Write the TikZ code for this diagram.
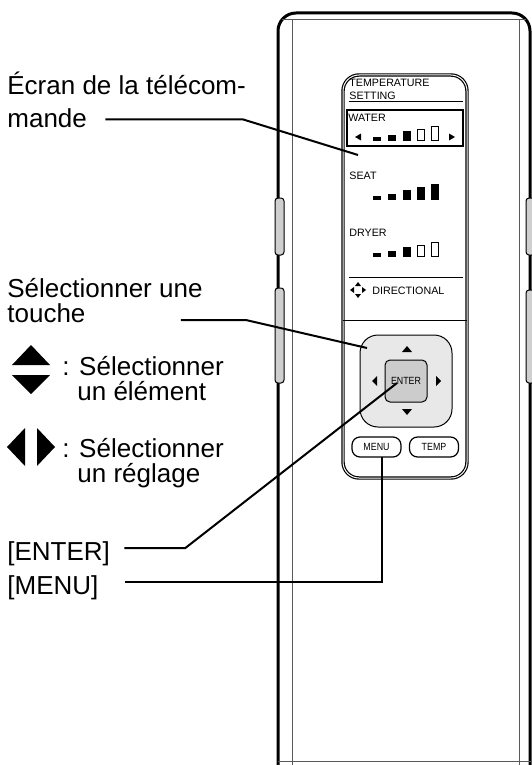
\documentclass[tikz,border=0pt]{standalone}
\usepackage{fontspec}
\setmainfont{Liberation Sans}
\newfontfamily\keyfont[FakeStretch=0.85]{Liberation Sans}
\usetikzlibrary{positioning}

\begin{document}
\begin{tikzpicture}[x=0.5pt, y=-0.5pt,
    lbl/.style={anchor=base west, inner sep=0pt, font=\fontsize{13}{15}\selectfont},
    scr/.style={anchor=base west, inner sep=0pt, font=\fontsize{5.35}{6}\selectfont},
    leader/.style={draw, line width=1pt},
    body/.style={draw, line width=1.5pt, rounded corners=9},
    innerln/.style={draw, gray!70!black, line width=0.5pt},
    sidebtn/.style={draw, line width=0.5pt, fill=gray!38, rounded corners=1.5},
    panel/.style={draw, line width=0.6pt, double, double distance=0.5pt, rounded corners=8},
    dpad/.style={draw, line width=0.5pt, fill=gray!18, rounded corners=9, minimum size=46pt, inner sep=0pt},
    enterkey/.style={draw, line width=0.5pt, fill=gray!40, rounded corners=2.5, minimum size=21pt, inner sep=0pt, font=\keyfont\fontsize{5.2}{6}\selectfont},
    key/.style={draw, line width=0.6pt, rounded corners=4, minimum width=24.5pt, minimum height=10pt, inner sep=0pt, font=\keyfont\fontsize{5.2}{6}\selectfont}
]
    \useasboundingbox (0,0) rectangle (531,765);

    % Remote body
    \draw[body] (278,800) -- (278,13) -- (530,13) -- (530,800);
    \draw[innerln] (282,20) -- (526,20);
    \draw[innerln] (292,20) -- (292,765);
    \draw[innerln] (519,20) -- (519,765);
    \draw[innerln] (278,761) -- (531,761);
    \draw[sidebtn] (275,198) rectangle (284,255);
    \draw[sidebtn] (275,288) rectangle (284,383);
    \draw[sidebtn] (526,198) rectangle (535,255);
    \draw[sidebtn] (526,290) rectangle (535,383);

    % Screen
    \draw[panel] (343,75) rectangle (467,478);
    \draw[line width=0.5pt] (343,320) -- (467,320);
    \node[scr] (temp1) at (349,86.5) {TEMPERATURE};
    \node[scr] (temp2) at (349,99) {SETTING};
    \draw[line width=0.5pt] (349,102) -- (463,102);
    \draw[line width=0.6pt] (347,110) rectangle (463,146);
    \node[scr] (water) at (348,121.5) {WATER};
    \fill (355,137) -- (361,133.5) -- (361,140.5) -- cycle;
    \fill (449,133.5) -- (455,137) -- (449,140.5) -- cycle;
    \foreach \xb/\hb/\fb in {373/3/black, 388/5/black, 403/9/black, 417/11/white, 431/14/white}
        \draw[line width=0.4pt, fill=\fb] (\xb,140.5) rectangle ++(7,-\hb);
    \node[scr] (seat) at (349,179) {SEAT};
    \foreach \xb/\hb in {373/3, 388/5, 403/9, 417/12, 431/15}
        \draw[line width=0.4pt, fill=black] (\xb,199) rectangle ++(7,-\hb);
    \node[scr] (dryer) at (349,236) {DRYER};
    \foreach \xb/\hb/\fb in {373/3/black, 388/5/black, 403/9/black, 417/11/white, 431/14/white}
        \draw[line width=0.4pt, fill=\fb] (\xb,256) rectangle ++(7,-\hb);
    \draw[line width=0.5pt] (349,277) -- (463,277);
    \fill (355,286) -- (361,286) -- (358,282) -- cycle;
    \fill (355,294) -- (361,294) -- (358,298) -- cycle;
    \fill (354,287) -- (354,293) -- (350,290) -- cycle;
    \fill (362,287) -- (362,293) -- (366,290) -- cycle;
    \node[scr] (direc) at (372,294) {DIRECTIONAL};

    % Keys
    \node[dpad] (dpad) at (406,381) {};
    \node[enterkey] (enter) at (406,381) {ENTER};
    \fill (402,352) -- (412,352) -- (407,346) -- cycle;
    \fill (402,409) -- (412,409) -- (407,415) -- cycle;
    \fill (377,376) -- (377,386) -- (372,381) -- cycle;
    \fill (436,376) -- (436,386) -- (441,381) -- cycle;
    \node[key] (menu) at (376.5,447) {MENU};
    \node[key] (tempkey) at (434,447) {TEMP};

    % Labels
    \node[lbl] (ecran) at (7,95) {Écran de la télécom-};
    \node[lbl] (mande) at (7,127) {mande};
    \node[lbl] (selkey) at (7,297) {Sélectionner une};
    \node[lbl] (touche) at (7,322) {touche};
    \fill (12,365) -- (50,365) -- (31,345) -- cycle;
    \fill (12,375) -- (50,375) -- (31,394) -- cycle;
    \node[lbl] (selitem) at (62,375) {: Sélectionner};
    \node[lbl] (item) at (77,400) {un élément};
    \fill (7,447) -- (25,428) -- (25,466) -- cycle;
    \fill (37,428) -- (37,466) -- (55,447) -- cycle;
    \node[lbl] (selset) at (62,457) {: Sélectionner};
    \node[lbl] (setting) at (77,482) {un réglage};
    \node[lbl] (entlbl) at (7,560) {[ENTER]};
    \node[lbl] (menulbl) at (7,594) {[MENU]};

    % Leaders
    \coordinate (scrpt) at (358,155);
    \coordinate (keypt) at (367,348);
    \coordinate (entpt) at (397,383);
    \coordinate (menupt) at (382,457);
    \draw[leader] ([xshift=9pt,yshift=3.75pt]mande.base east) -- ++(138,0) -- (scrpt);
    \draw[leader] ([xshift=47.5pt,yshift=1pt]touche.base east) -- ++(65,0) -- (keypt);
    \draw[leader] ([xshift=7pt,yshift=6pt]entlbl.base east) -- ++(61,0) -- (entpt);
    \draw[leader] ([xshift=13pt,yshift=6pt]menulbl.base east) -| (menupt);
\end{tikzpicture}
\end{document}
